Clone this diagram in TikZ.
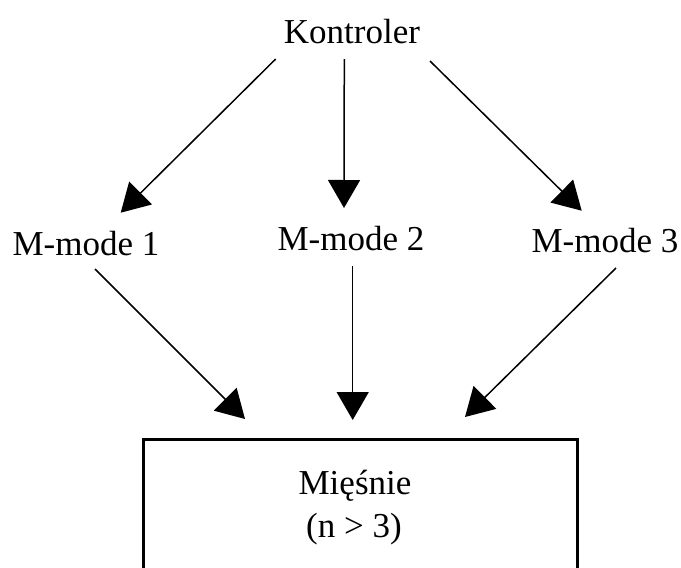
\documentclass[tikz,border=0pt]{standalone}
\usepackage{fontspec}
\setmainfont{Liberation Serif}
\usetikzlibrary{arrows.meta}
\begin{document}
\begin{tikzpicture}[x=0.5pt,y=-0.5pt,
  txt/.style={font=\fontsize{17.5}{21}\selectfont, inner sep=0pt, anchor=base},
  link/.style={line width=0.75pt, -{Triangle[length=14pt,width=16pt]}},
  musclebox/.style={draw, line width=1.5pt, minimum width=217pt, minimum height=69pt, inner sep=0pt}]
\useasboundingbox (0,0) rectangle (681,568);
\clip (0,0) rectangle (681,568);

% labels
\node[txt] (ctrl) at (352,43) {Kontroler};
\node[txt] (m1) at (86,255) {M-mode 1};
\node[txt] (m2) at (351,250) {M-mode 2};
\node[txt] (m3) at (605,252) {M-mode 3};

% muscle block (lower edge runs off the page)
\node[musclebox] (muscles) at (360,508) {};
\node[txt] (mtext1) at (355,494) {Mięśnie};
\node[txt] (mtext2) at (354,537) {(n > 3)};

% connector end points
\coordinate (c1) at (275.7,59);
\coordinate (c2) at (344.3,59);
\coordinate (c3) at (430,61);
\coordinate (t1) at (120.7,212.7);
\coordinate (t2) at (344,208);
\coordinate (t3) at (581.7,210.7);
\coordinate (s1) at (95,269);
\coordinate (s2) at (352.7,266);
\coordinate (s3) at (616,268);
\coordinate (e1) at (245,419);
\coordinate (e2) at (352.7,420);
\coordinate (e3) at (465,417);

% controller to modes
\draw[link] (c1) -- (t1);
\draw[link] (c2) -- (t2);
\draw[link] (c3) -- (t3);

% modes to muscles
\draw[link] (s1) -- (e1);
\draw[link] (s2) -- (e2);
\draw[link] (s3) -- (e3);
\end{tikzpicture}
\end{document}
